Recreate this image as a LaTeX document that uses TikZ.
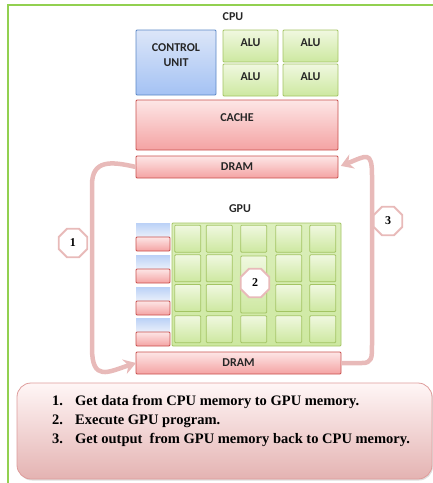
\documentclass[tikz,border=0pt]{standalone}
\usepackage{fontspec}
\setmainfont{Liberation Serif}
\newfontfamily\lblfont{Carlito}
\usetikzlibrary{shapes.geometric,arrows.meta,shadows}
\definecolor{blueT}{HTML}{DCE6F8}
\definecolor{blueBot}{HTML}{A4C2F4}
\definecolor{blueB}{HTML}{5B87C5}
\definecolor{greenT}{HTML}{F0F8E0}
\definecolor{greenBot}{HTML}{CDE8A0}
\definecolor{greenB}{HTML}{A3C463}
\definecolor{redT}{HTML}{FDE6E6}
\definecolor{redBot}{HTML}{F4A3A3}
\definecolor{redB}{HTML}{C8504D}
\definecolor{flowc}{HTML}{E8BAB9}
\definecolor{frameG}{HTML}{92D050}
\definecolor{noteT}{HTML}{FFF6F6}
\definecolor{noteBot}{HTML}{E4B3B2}
\definecolor{noteB}{HTML}{DE9C9B}
\begin{document}
\begin{tikzpicture}[x=1pt,y=-1pt,
  box/.style={draw, line width=0.8pt, rounded corners=1pt, inner sep=0pt, outer sep=0pt},
  bluebox/.style={box, draw=blueB, top color=blueT, bottom color=blueBot},
  greenbox/.style={box, draw=greenB, top color=greenT, bottom color=greenBot},
  redbox/.style={box, draw=redB, top color=redT, bottom color=redBot},
  lblfnt/.style={font=\lblfont\bfseries\fontsize{12}{15}\selectfont, text=black!85},
  lbl/.style={lblfnt, inner sep=0pt, align=center},
  oct/.style={regular polygon, regular polygon sides=8, draw=flowc, line width=1.8pt, fill=white, minimum size=31pt, inner sep=0pt, font=\bfseries\fontsize{12}{12}\selectfont},
  flow/.style={draw=flowc, line width=4.5pt, line join=round, -{Stealth[length=12pt,width=15pt,inset=4pt]}},
  note/.style={font=\bfseries\fontsize{14.5}{16}\selectfont, inner sep=0pt, anchor=base west}
]
\useasboundingbox (0,0) rectangle (433,483);
% outer frame
\draw[frameG, line width=1.5pt] (8,483) -- (8,5) -- (434,5);

% CPU
\node[lbl] (cpulbl) at (233,17) {CPU};
\node[bluebox, minimum width=80pt, minimum height=65pt] (ctrl) at (176,62.5) {};
\node[lbl] (ctrllbl) at (176,55) {CONTROL\\UNIT};
\foreach \r/\y in {1/46,2/80}{
  \foreach \c/\x in {1/250.5,2/310.5}{
    \node[greenbox, minimum width=55pt, minimum height=32pt] (alu-\r-\c) at (\x,\y) {};
    \node[lbl] (alulbl-\r-\c) at (\x,\y-3) {ALU};
  }
}
\node[redbox, minimum width=202pt, minimum height=50pt] (cache) at (237,125) {};
\node[lbl] (cachelbl) at (237,118) {CACHE};
\node[redbox, lblfnt, minimum width=202pt, minimum height=22pt] (cdram) at (237,167) {DRAM};

% GPU
\node[lbl] (gpulbl) at (240,209) {GPU};
\node[box, draw=greenB, top color=greenBot!70!white, bottom color=greenBot, minimum width=169pt, minimum height=123pt] (gpu) at (256.5,284.5) {};
\foreach \c/\x in {1/187.7,2/219.3,3/253.7,4/288.7,5/322.8}{
  \foreach \r/\y in {1/238.7,2/268.3,3/298,4/329.2}{
    \ifnum\c=3 \ifnum\r>1 \ifnum\r<4 \else
      \node[greenbox, minimum width=26pt, minimum height=27pt] (cell-\r-\c) at (\x,\y) {};
    \fi \else
      \node[greenbox, minimum width=26pt, minimum height=27pt] (cell-\r-\c) at (\x,\y) {};
    \fi \else
      \node[greenbox, minimum width=26pt, minimum height=27pt] (cell-\r-\c) at (\x,\y) {};
    \fi
  }
}
\node[greenbox, minimum width=26pt, minimum height=57pt] (cell-tall) at (253.7,284.5) {};
\foreach \i/\y in {1/223,2/255,3/287,4/318}{
  \node[inner sep=0pt, outer sep=0pt, top color=blueBot!75!white, bottom color=blueT!60!white, minimum width=34pt, minimum height=14pt, anchor=north] (cb-\i) at (153,\y) {};
  \node[redbox, minimum width=34pt, minimum height=14pt, anchor=north] (cr-\i) at (cb-\i.south) {};
}
\node[redbox, lblfnt, minimum width=205pt, minimum height=22pt] (gdram) at (238.5,363) {DRAM};

% flows
\draw[flow] (cdram.west) .. controls (110,161) and (92,160) .. (92,185) -- (92,348)
   .. controls (92,382) and (108,372) .. (gdram.west);
\draw[flow, shorten >=3pt] (gdram.east) -- (362,363) .. controls (372,363) and (372,358) .. (372,345)
   -- (372,175) .. controls (372,150) and (366,156) .. (cdram.east);
\node[oct] (o1) at (73,243) {1};
\node[oct] (o2) at (255,283) {2};
\node[oct] (o3) at (388,221) {3};

% notes
\node[draw=noteB, line width=0.8pt, rounded corners=14pt, top color=noteT, bottom color=noteBot,
      drop shadow={opacity=0.25, shadow xshift=1pt, shadow yshift=-1.5pt},
      minimum width=415pt, minimum height=96pt, inner sep=0pt] (notes) at (224.5,431) {};
\node[note] (n1) at (52,405.5) {1.};
\node[note] (t1) at (75,405.5) {Get data from CPU memory to GPU memory.};
\node[note] (n2) at (52,424.5) {2.};
\node[note] (t2) at (75,424.5) {Execute GPU program.};
\node[note] (n3) at (52,443.5) {3.};
\node[note] (t3) at (75,443.5) {Get output\ \ from GPU memory back to CPU memory.};
\end{tikzpicture}
\end{document}
